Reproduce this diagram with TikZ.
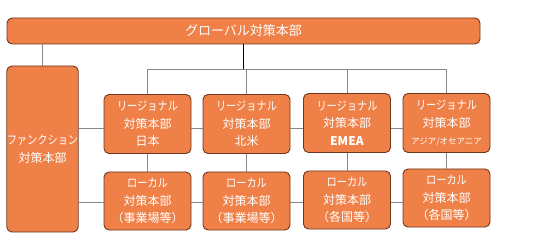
\documentclass[tikz,border=0pt]{standalone}
\usepackage{fontspec}
\setmainfont{Noto Sans CJK JP}
\newcommand\narrowkana[1]{\scalebox{0.85}[1]{#1}}
\definecolor{boxfill}{RGB}{239,129,72}
\definecolor{boxline}{RGB}{110,55,30}
\definecolor{conn}{RGB}{135,135,135}
\begin{document}
\begin{tikzpicture}[x=1pt,y=-1pt,
  orgbox/.style={draw=boxline,line width=0.9pt,fill=boxfill,rounded corners=5pt,
    text=white,align=center,inner sep=0pt,font=\fontsize{12}{17.5}\selectfont},
  regbox/.style={orgbox,minimum width=87pt,minimum height=59pt},
  locbox/.style={orgbox,minimum width=87pt,minimum height=58pt},
  conline/.style={draw=conn,line width=0.9pt}]
\useasboundingbox (0,0) rectangle (533,251);
\coordinate (hub) at (243.5,69);
\coordinate (hl) at (147.5,69);
\coordinate (hr) at (446.5,69);
\node[orgbox,minimum width=473pt,minimum height=26pt,font=\fontsize{13}{14}\selectfont] (top) at (243.5,31) {グローバル対策本部};
\node[orgbox,minimum width=71pt,minimum height=166pt] (func) at (42.5,149) {\narrowkana{ファンクション}\\対策本部};
\node[regbox] (r1) at (147.5,124) {\narrowkana{リージョナル}\\対策本部\\日本};
\node[regbox] (r2) at (246.5,124) {\narrowkana{リージョナル}\\対策本部\\北米};
\node[regbox] (r3) at (347,123) {\narrowkana{リージョナル}\\対策本部\\\textbf{EMEA}};
\node[regbox] (r4) at (446.5,123) {\narrowkana{リージョナル}\\対策本部\\{\fontsize{8.5}{10}\selectfont アジア/オセアニア}};
\node[locbox] (l1) at (147.5,201) {\narrowkana{ローカル}\\対策本部\\（事業場等）};
\node[locbox] (l2) at (246.5,201) {\narrowkana{ローカル}\\対策本部\\（事業場等）};
\node[locbox] (l3) at (347,200) {\narrowkana{ローカル}\\対策本部\\（各国等）};
\node[locbox] (l4) at (446.5,198) {\narrowkana{ローカル}\\対策本部\\（各国等）};
\draw[line width=0.9pt,black] (top.south -| hub) -- (hub);
\draw[conline] (hl) -- (hr);
\foreach \n in {r1,r2,r3,r4}{\draw[conline] (\n.north |- hub) -- (\n.north);}
\draw[conline] (top.south -| func.north) -- (func.north);
\draw[conline] (r1.south) -- (l1.north);
\draw[conline] (r2.south) -- (l2.north);
\draw[conline] (r3.south) -- (l3.north);
\draw[conline] (r4.south) -- (l4.north);
\coordinate (ry) at (0,128);
\coordinate (ly) at (0,202);
\draw[conline] (func.east |- ry) -- (r1.west |- ry);
\draw[conline] (r1.east |- ry) -- (r2.west |- ry);
\draw[conline] (r2.east |- ry) -- (r3.west |- ry);
\draw[conline] (r3.east |- ry) -- (r4.west |- ry);
\draw[conline] (func.east |- ly) -- (l1.west |- ly);
\draw[conline] (l1.east |- ly) -- (l2.west |- ly);
\draw[conline] (l2.east |- ly) -- (l3.west |- ly);
\draw[conline] (l3.east |- ly) -- (l4.west |- ly);
\end{tikzpicture}
\end{document}
